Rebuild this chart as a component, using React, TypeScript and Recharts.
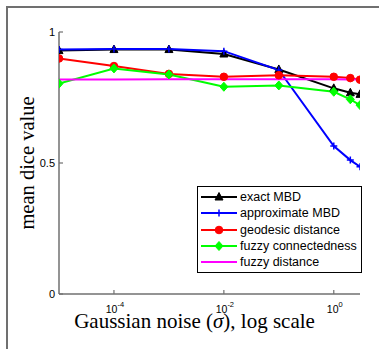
import React from 'react';
import { LineChart, Line, XAxis, YAxis, Legend } from 'recharts';

// noise levels (sigma) and mean dice values
const sigma = [1e-5, 1e-4, 1e-3, 1e-2, 1e-1, 1, 2, 3];
const exactMBD = [0.929, 0.933, 0.933, 0.916, 0.857, 0.785, 0.768, 0.762];
const approxMBD = [0.933, 0.935, 0.935, 0.927, 0.855, 0.565, 0.511, 0.486];
const geodesic = [0.899, 0.87, 0.84, 0.829, 0.835, 0.829, 0.824, 0.818];
const fuzzyConn = [0.803, 0.861, 0.838, 0.791, 0.796, 0.772, 0.743, 0.721];
const fuzzyDist = [0.819, 0.819, 0.82, 0.82, 0.82, 0.82, 0.819, 0.819];

const xTicks = [1e-4, 1e-2, 1];
const yTicks = [0, 0.5, 1];

const series = [
  { key: 'exact', name: 'exact MBD', color: '#000000', marker: 'triangle', values: exactMBD },
  { key: 'approx', name: 'approximate MBD', color: '#0000ff', marker: 'plus', values: approxMBD },
  { key: 'geo', name: 'geodesic distance', color: '#ff0000', marker: 'circle', values: geodesic },
  { key: 'fc', name: 'fuzzy connectedness', color: '#00ff00', marker: 'diamond', values: fuzzyConn },
  { key: 'fd', name: 'fuzzy distance', color: '#ff00ff', marker: 'none', values: fuzzyDist },
];

const data = sigma.map((s, i) => {
  const row: any = { sigma: s };
  series.forEach(sr => { row[sr.key] = sr.values[i]; });
  return row;
});

const W = 379;
const H = 349;
const X_AXIS_H = 55;
const Y_AXIS_W = 59;
const AXIS_Y = H - X_AXIS_H; // bottom of the plot area

const axisColor = '#707070';
const sans = '"Liberation Sans", Arial, sans-serif';
const serif = '"Liberation Serif", "Times New Roman", serif';

const marker = (kind: string, cx: number, cy: number, color: string) => {
  switch (kind) {
    case 'triangle':
      return <polygon points={`${cx},${cy - 4.5} ${cx - 4},${cy + 3} ${cx + 4},${cy + 3}`} fill={color} stroke={color} strokeWidth={1} />;
    case 'plus':
      return <path d={`M${cx - 3.5},${cy}H${cx + 3.5}M${cx},${cy - 3.5}V${cy + 3.5}`} stroke={color} strokeWidth={1.5} fill="none" />;
    case 'circle':
      return <circle cx={cx} cy={cy} r={3.8} fill={color} stroke={color} />;
    case 'diamond':
      return <polygon points={`${cx},${cy - 4.5} ${cx + 4},${cy} ${cx},${cy + 4.5} ${cx - 4},${cy}`} fill={color} stroke={color} strokeWidth={1} />;
    default:
      return null;
  }
};

const XTick = ({ x, payload }: any) => {
  const exp = Math.round(Math.log10(payload.value));
  return (
    <g>
      <line x1={x} y1={AXIS_Y} x2={x} y2={AXIS_Y - 4} stroke={axisColor} strokeWidth={1.2} />
      <text x={x + 1} y={AXIS_Y + 18.5} textAnchor="middle" fontSize={10.5} fontFamily={sans} fill="#000">
        <tspan>10</tspan>
        <tspan dy={-6} fontSize={7.5}>{exp}</tspan>
      </text>
    </g>
  );
};

const YTick = ({ y, payload }: any) => (
  <g>
    <line x1={Y_AXIS_W} y1={y} x2={Y_AXIS_W + 4} y2={y} stroke={axisColor} strokeWidth={1.2} />
    <text x={Y_AXIS_W - 4} y={y + 4} textAnchor="end" fontSize={11} fontFamily={sans} fill="#000">
      {String(payload.value)}
    </text>
  </g>
);

const renderLegend = () => (
  <div style={{ border: '1px solid #000', background: '#fff', width: 161, height: 83, padding: '2px 0 0 2px', boxSizing: 'content-box' }}>
    {series.map(sr => (
      <div key={sr.key} style={{ display: 'flex', alignItems: 'center', height: 16.3 }}>
        <svg width={38} height={12} style={{ display: 'block' }}>
          <line x1={1} y1={6} x2={37} y2={6} stroke={sr.color} strokeWidth={2} />
          {marker(sr.marker, 19, 6, sr.color)}
        </svg>
        <span style={{ fontFamily: sans, fontSize: 12.5, color: '#000', marginLeft: 2, lineHeight: '14px' }}>{sr.name}</span>
      </div>
    ))}
  </div>
);

export default function App() {
  return (
    <div style={{ position: 'absolute', left: 0, top: 0, width: W, height: H, background: '#fff' }}>
      <div style={{ position: 'absolute', left: 6, top: 6, right: 0, bottom: 0, borderTop: `2px solid ${axisColor}`, borderLeft: `2px solid ${axisColor}` }} />
      <LineChart width={W} height={H} data={data} margin={{ top: 32, right: 19, bottom: 0, left: 0 }}>
        <XAxis
          dataKey="sigma"
          type="number"
          scale="log"
          domain={[1e-5, 3]}
          allowDataOverflow
          ticks={xTicks}
          tick={<XTick />}
          tickSize={0}
          tickMargin={0}
          height={X_AXIS_H}
          stroke={axisColor}
          strokeWidth={1.5}
          label={{
            content: ({ viewBox }: any) => (
              <text x={viewBox.x + viewBox.width / 2 - 15} y={AXIS_Y + 34} textAnchor="middle" fontFamily={serif} fontSize={21} fill="#000">
                Gaussian noise (<tspan fontStyle="italic">σ</tspan>), log scale
              </text>
            ),
          }}
        />
        <YAxis
          type="number"
          domain={[0, 1]}
          ticks={yTicks}
          tick={<YTick />}
          tickSize={0}
          tickMargin={0}
          width={Y_AXIS_W}
          stroke={axisColor}
          strokeWidth={1.5}
          label={{
            content: ({ viewBox }: any) => (
              <text x={27} y={viewBox.y + viewBox.height / 2} textAnchor="middle" fontFamily={serif} fontSize={20.5} fill="#000" transform={`rotate(-90 27 ${viewBox.y + viewBox.height / 2})`} dominantBaseline="central">
                mean dice value
              </text>
            ),
          }}
        />
        {series.map(sr => (
          <Line
            key={sr.key}
            dataKey={sr.key}
            name={sr.name}
            stroke={sr.color}
            strokeWidth={2}
            isAnimationActive={false}
            dot={(p: any) => <g key={`${sr.key}-${p.index}`}>{marker(sr.marker, p.cx, p.cy, sr.color)}</g>}
            activeDot={false}
          />
        ))}
        <Legend
          layout="vertical"
          align="center"
          verticalAlign="middle"
          content={renderLegend}
          wrapperStyle={{ left: 197, top: 186, width: 163, height: 85 }}
        />
      </LineChart>
    </div>
  );
}
